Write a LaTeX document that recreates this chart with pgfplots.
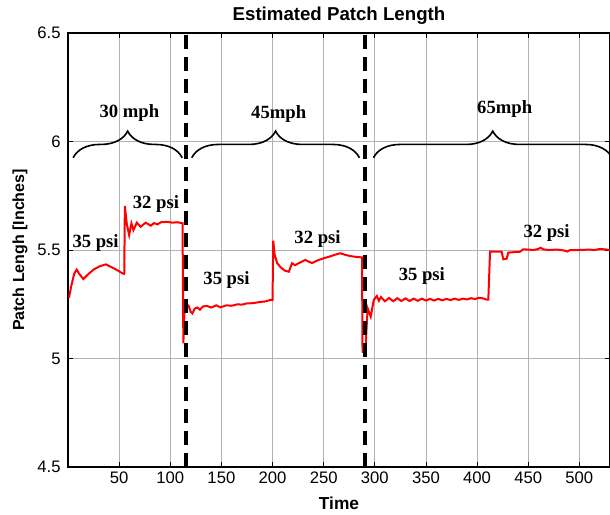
\documentclass[border=0pt]{standalone}
\usepackage{pgfplots}
\pgfplotsset{compat=1.18}
\usepackage{fontspec}
\setmainfont{Liberation Sans}
\newfontfamily\tnr{Liberation Serif}
\usetikzlibrary{decorations.pathreplacing}
\begin{document}
\begin{tikzpicture}
\begin{axis}[
  scale only axis,
  width=406.5pt, height=325.5pt,
  xmin=0, xmax=530, ymin=4.5, ymax=6.5,
  xtick={50,100,...,500},
  ytick={4.5,5,5.5,6,6.5},
  yticklabels={4.5,5,5.5,6,6.5},
  /pgf/number format/assume math mode=true,
  tick label style={font=\fontsize{12.5}{14}\selectfont},
  yticklabel style={xshift=-2pt},
  tick align=inside,
  major tick length=3.5pt,
  axis line style={line width=0.9pt},
  every tick/.style={black, line width=0.5pt},
  grid=major,
  major grid style={gray!60, line width=0.5pt},
  title={Estimated Patch Length},
  every axis title/.style={at={(axis description cs:0.5,1.04)}, anchor=center, font=\bfseries\fontsize{14}{16}\selectfont},
  xlabel={Time},
  every axis x label/.style={at={(axis description cs:0.5,-0.083)}, anchor=center, font=\bfseries\fontsize{13}{15}\selectfont},
  ylabel={Patch Lengh [Inches]},
  every axis y label/.style={at={(axis description cs:-0.0886,0.5)}, rotate=90, anchor=center, font=\bfseries\fontsize{12}{14}\selectfont},
  clip=false,
]
\addplot[red, line width=1.5pt] coordinates {
(1,5.28) (3,5.33) (6,5.39) (8.5,5.41) (11,5.39) (15,5.366) (19,5.385) (25,5.41) (31,5.425) (37,5.434) (43,5.42) (49,5.405) (53,5.393) (55,5.39)
(55.6,5.703) (57.5,5.62) (59.8,5.569) (62,5.623) (64,5.592) (67.3,5.626) (71,5.607) (76,5.626) (81,5.612) (84,5.624) (87.5,5.618) (91,5.628) (97,5.63) (102,5.626) (107,5.628) (112,5.623)
(112.8,5.07) (114,5.23) (116,5.25) (118,5.242) (120,5.215) (121.6,5.208) (124,5.23) (126.5,5.235) (129,5.225) (132,5.24) (136,5.242) (140,5.235) (145,5.245) (149,5.236) (155,5.245) (160,5.243) (166,5.25) (170,5.248) (175,5.254) (181,5.255) (187,5.26) (193,5.263) (198,5.27) (200,5.27)
(200.7,5.543) (202,5.48) (204.6,5.439) (208,5.42) (212,5.405) (216,5.40) (219,5.439) (222,5.43) (226,5.44) (232,5.454) (235,5.447) (238.7,5.44) (244,5.452) (250,5.462) (256,5.47) (261,5.478) (266.3,5.485) (271,5.478) (276,5.472) (282,5.468) (287.5,5.466)
(288,5.031) (290.7,5.03) (293,5.231) (296,5.193) (299,5.27) (302,5.288) (304,5.266) (306,5.283) (310,5.264) (314,5.279) (318,5.264) (322,5.278) (326,5.265) (330,5.277) (334,5.265) (338,5.276) (342,5.266) (346,5.276) (350,5.267) (354,5.275) (358,5.267) (362,5.275) (366,5.268) (370,5.275) (374,5.269) (378,5.276) (382,5.27) (386,5.276) (390,5.272) (394,5.278) (398,5.274) (402,5.28) (406,5.277) (409.5,5.271) (411,5.271)
(412.7,5.492) (418,5.492) (424,5.492) (425.7,5.457) (429,5.46) (430.5,5.488) (436,5.49) (442,5.492) (445,5.503) (450,5.502) (455,5.50) (460,5.505) (462,5.51) (465,5.503) (470,5.50) (478,5.502) (485,5.498) (488,5.493) (491,5.50) (500,5.50) (510,5.502) (515,5.50) (520,5.505) (525,5.503) (530,5.50)
};
\addplot[black, line width=3pt, dash pattern=on 10.5pt off 6pt] coordinates {(115,4.5) (115,6.5)};
\addplot[black, line width=3pt, dash pattern=on 10.5pt off 6pt] coordinates {(290,4.5) (290,6.5)};
\draw[decorate, decoration={brace, amplitude=20pt}, line width=1.2pt] (axis cs:5,5.925) -- (axis cs:111.7,5.925);
\draw[decorate, decoration={brace, amplitude=20pt}, line width=1.2pt] (axis cs:121,5.925) -- (axis cs:285,5.925);
\draw[decorate, decoration={brace, amplitude=20pt}, line width=1.2pt] (axis cs:298.7,5.925) -- (axis cs:532,5.925);
\begin{scope}[every node/.style={font=\tnr\bfseries\fontsize{14}{16}\selectfont, inner sep=0pt}]
\node at (axis cs:60,6.133) {30 mph};
\node at (axis cs:206,6.125) {45mph};
\node at (axis cs:427,6.15) {65mph};
\node at (axis cs:27,5.53) {35 psi};
\node at (axis cs:86,5.71) {32 psi};
\node at (axis cs:155,5.36) {35 psi};
\node at (axis cs:244,5.55) {32 psi};
\node at (axis cs:346,5.38) {35 psi};
\node at (axis cs:468,5.58) {32 psi};
\end{scope}
\end{axis}
\pgfresetboundingbox
\path[use as bounding box] ([shift={(-51pt,-35.25pt)}]current axis.south west) rectangle ([shift={(0pt,24.75pt)}]current axis.north east);
\end{tikzpicture}
\end{document}
